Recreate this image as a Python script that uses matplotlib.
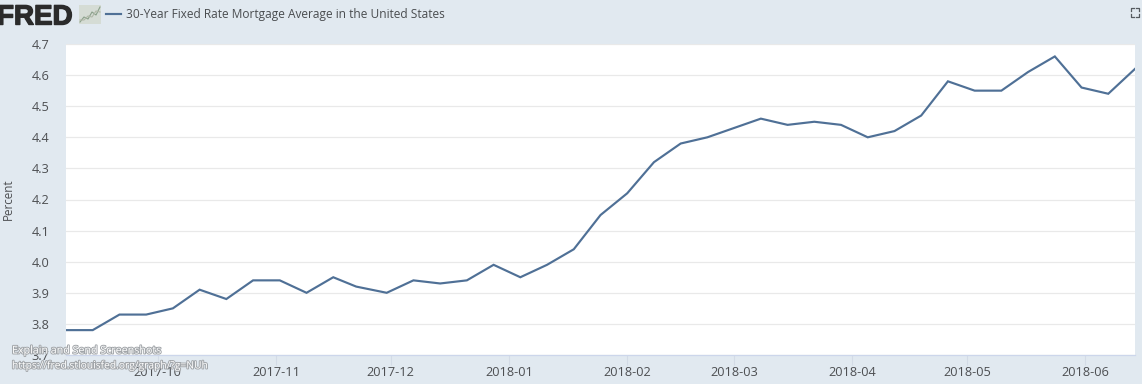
import matplotlib
matplotlib.use("Agg")
import matplotlib.pyplot as plt
import matplotlib.dates as mdates
import matplotlib.patheffects as pe
from matplotlib.patches import Rectangle
from matplotlib.lines import Line2D
from datetime import datetime

plt.rcParams['font.family'] = ['Open Sans', 'DejaVu Sans']

dates = ["2017-09-07","2017-09-14","2017-09-21","2017-09-28","2017-10-05","2017-10-12","2017-10-19",
         "2017-10-26","2017-11-02","2017-11-09","2017-11-16","2017-11-22","2017-11-30","2017-12-07",
         "2017-12-14","2017-12-21","2017-12-28","2018-01-04","2018-01-11","2018-01-18","2018-01-25",
         "2018-02-01","2018-02-08","2018-02-15","2018-02-22","2018-03-01","2018-03-08","2018-03-15",
         "2018-03-22","2018-03-29","2018-04-05","2018-04-12","2018-04-19","2018-04-26","2018-05-03",
         "2018-05-10","2018-05-17","2018-05-24","2018-05-31","2018-06-07","2018-06-14"]
values = [3.78,3.78,3.83,3.83,3.85,3.91,3.88,3.94,3.94,3.90,3.95,3.92,3.90,3.94,3.93,3.94,3.99,
          3.95,3.99,4.04,4.15,4.22,4.32,4.38,4.40,4.43,4.46,4.44,4.45,4.44,4.40,4.42,4.47,4.58,
          4.55,4.55,4.61,4.66,4.56,4.54,4.62]
yticks = [3.7,3.8,3.9,4.0,4.1,4.2,4.3,4.4,4.5,4.6,4.7]
xtick_dates = ["2017-10-01","2017-11-01","2017-12-01","2018-01-01","2018-02-01","2018-03-01",
               "2018-04-01","2018-05-01","2018-06-01"]
series_name = "30-Year Fixed Rate Mortgage Average in the United States"

W, H = 1142, 384
BG = "#e1e9f0"
LINE = "#4f7096"
TXT = "#4d4f52"

fig = plt.figure(figsize=(W/100, H/100), dpi=100, facecolor=BG)
ax = fig.add_axes([66/W, 1-355/H, (1135-66)/W, (355-44)/H], facecolor="white")

x = [datetime.strptime(d, "%Y-%m-%d") for d in dates]
ax.plot(x, values, color=LINE, lw=1.55, solid_joinstyle="miter", clip_on=True, zorder=3)
ax.set_xlim(x[0], x[-1])
ax.set_ylim(3.7, 4.7)
ax.set_yticks(yticks)
ax.set_yticklabels([f"{v:.1f}" for v in yticks], fontsize=9.2, color=TXT)
ax.set_xticks([datetime.strptime(d, "%Y-%m-%d") for d in xtick_dates])
ax.xaxis.set_major_formatter(mdates.DateFormatter("%Y-%m"))
ax.tick_params(axis='y', length=0, pad=12)
ax.tick_params(axis='x', length=7, width=0.8, color="#d3dbe6", labelsize=9.2, labelcolor=TXT, pad=1)
ax.grid(axis='y', color="#e9e9e9", lw=0.9, zorder=0)
for s in ['top', 'left', 'right']:
    ax.spines[s].set_visible(False)
ax.spines['bottom'].set_color("#ccd6eb")
ax.spines['bottom'].set_linewidth(0.9)
ax.set_ylabel("Percent", fontsize=8.4, color=TXT)
ax.yaxis.set_label_coords((15-66)/(1135-66), 0.5)

def fx(p): return p / W
def fy(p): return 1 - p / H

# header
fig.text(fx(-3), fy(24.5), "FRED", fontsize=20, fontweight='bold', color="#2b2b2b", va='baseline', ha='left',
         family=['Liberation Sans', 'DejaVu Sans'],
         path_effects=[pe.withStroke(linewidth=1.0, foreground="#2b2b2b")])
fig.add_artist(Rectangle((fx(79), fy(24)), 22/W, 19/H, transform=fig.transFigure, fc="#d5dcd5", ec="none"))
for ys, c in (([22, 17, 19, 12, 15, 7], "#8aa08a"), ([20, 20, 16, 17, 11, 12], "#b0b8a8")):
    fig.add_artist(Line2D([fx(p) for p in (80, 84, 88, 92, 96, 100)], [fy(p) for p in ys],
                          transform=fig.transFigure, color=c, lw=0.8))
fig.add_artist(Line2D([fx(106), fx(121)], [fy(14), fy(14)], transform=fig.transFigure, color=LINE, lw=1.55))
fig.text(fx(126.5), fy(14.5), series_name, fontsize=8.6, color="#4a4d50", va='center', ha='left')

# fullscreen icon
for (xs, ys) in (([1131,1131,1134],[11,8,8]), ([1136,1139,1139],[8,8,11]),
                 ([1131,1131,1134],[14,17,17]), ([1136,1139,1139],[17,17,14])):
    fig.add_artist(Line2D([fx(p) for p in xs], [fy(p) for p in ys], transform=fig.transFigure,
                          color="#555a5f", lw=0.9))

# screenshot overlay
shadow = [pe.withStroke(linewidth=1.4, foreground="#a2a6aa")]
fig.text(fx(12), fy(351), "Explain and Send Screenshots", fontsize=7.7, color="white", va='center', ha='left',
         path_effects=shadow, zorder=10)
fig.text(fx(12), fy(366), "https://fred.stlouisfed.org/graph/?g=NUh", fontsize=7.4, color="white", va='center',
         ha='left', path_effects=shadow, zorder=10)

fig.savefig("out.png", dpi=100, facecolor=BG)
